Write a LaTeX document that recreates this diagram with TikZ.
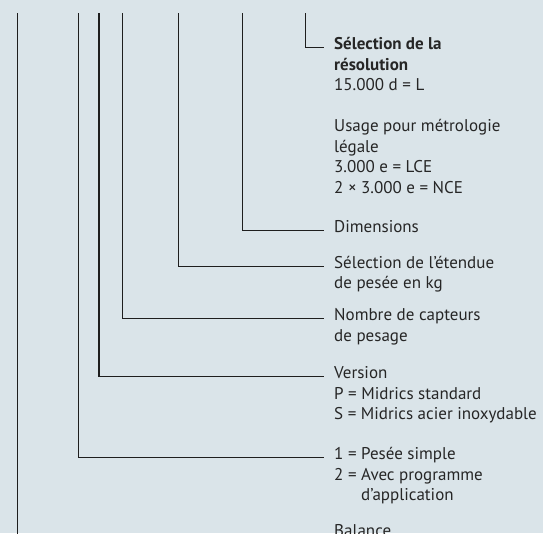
\documentclass[tikz,border=0pt]{standalone}
\usepackage{fontspec}
\setmainfont{PT Sans}
\definecolor{bg}{HTML}{DAE4E9}
\definecolor{ink}{HTML}{1E1E1E}
\definecolor{txt}{HTML}{262626}
\newcommand{\lines}[1]{\begin{tabular}[t]{@{}l@{}}#1\end{tabular}}
\begin{document}
\begin{tikzpicture}[x=1pt,y=-1pt,
  conn/.style={draw=ink,line width=1.1pt},
  lbl/.style={anchor=base west,inner sep=0pt,text=txt,
    font=\fontsize{17}{20.7}\selectfont}]
\fill[bg] (0,0) rectangle (543,533);
\useasboundingbox (0,0) rectangle (543,533);
\clip (0,0) rectangle (543,533);
% labels
\node[lbl] (sel) at (334,49.5) {\lines{\textbf{Sélection de la}\\\textbf{résolution}\\15.000 d = L}};
\node[lbl] (usage) at (334,131.5) {\lines{Usage pour métrologie\\légale\\3.000 e = LCE\\2 × 3.000 e = NCE}};
\node[lbl] (dim) at (334,232) {\lines{Dimensions}};
\node[lbl] (range) at (334,268) {\lines{Sélection de l’étendue\\de pesée en kg}};
\node[lbl] (cells) at (334,320.5) {\lines{Nombre de capteurs\\de pesage}};
\node[lbl] (ver) at (334,378.3) {\lines{Version\\P = Midrics standard\\S = Midrics acier inoxydable}};
\node[lbl] (app) at (334,459.5) {\lines{1 = Pesée simple\\2 = Avec programme\\\hphantom{2 = }d’application}};
\node[lbl] (bal) at (334,536) {\lines{Balance}};
% tops of the verticals
\coordinate (t1) at (17.3,13);
\coordinate (t2) at (78.7,13);
\coordinate (t3) at (99,13);
\coordinate (t4) at (122.7,13);
\coordinate (t5) at (178.3,13);
\coordinate (t6) at (242.3,13);
\coordinate (t7) at (305.7,13);
% connectors
\draw[conn] (t7) |- ([shift={(-10pt,1.8pt)}]sel.base west);
\draw[conn] (t6) |- ([shift={(-10pt,1.8pt)}]dim.base west);
\draw[conn] (t5) |- ([shift={(-10pt,1.8pt)}]range.base west);
\draw[conn] (t4) |- ([shift={(-10pt,1.8pt)}]cells.base west);
\draw[conn] (t3) |- ([shift={(-10pt,1.8pt)}]ver.base west);
\draw[conn] (t2) |- ([shift={(-10pt,1.8pt)}]app.base west);
\draw[conn] (t1) |- ([shift={(-10pt,1.8pt)}]bal.base west);
\end{tikzpicture}
\end{document}
